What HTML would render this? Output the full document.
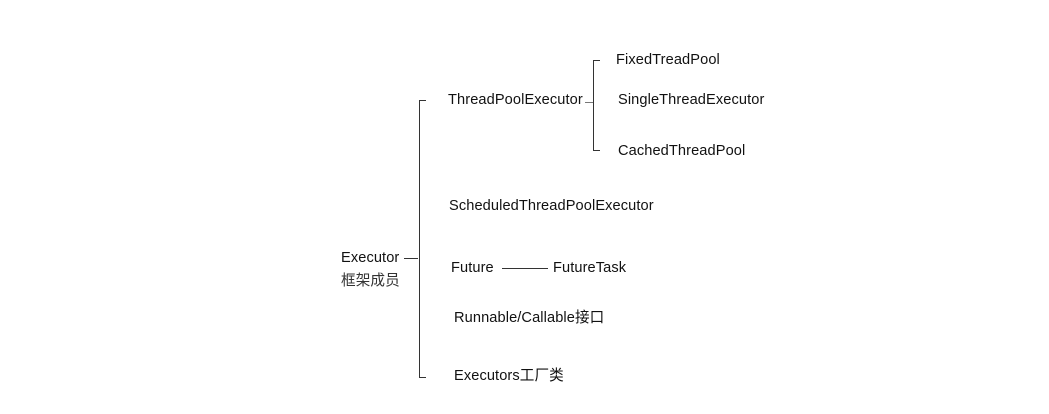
<!DOCTYPE html>
<html><head><meta charset="utf-8"><style>
body{margin:0;width:1049px;height:414px;background:#fff;position:relative;overflow:hidden;font-family:"Liberation Sans","Noto Sans CJK SC",sans-serif;font-size:14.6px;letter-spacing:0.1px;color:#111}
.t{position:absolute;line-height:16px;white-space:nowrap}
.l{position:absolute;background:#333}
</style></head><body>
<div class="t" style="left:341px;top:250px">Executor</div>
<div class="t" style="left:341px;top:273px;color:#333">框架成员</div>
<div class="l" style="left:404px;top:258px;width:14px;height:1px"></div>
<div class="l" style="left:419px;top:100px;width:1px;height:278px"></div>
<div class="l" style="left:419px;top:100px;width:7px;height:1px"></div>
<div class="l" style="left:419px;top:377px;width:7px;height:1px"></div>
<div class="t" style="left:448px;top:92px">ThreadPoolExecutor</div>
<div class="l" style="left:585px;top:102px;width:8px;height:1px;background:#777"></div>
<div class="l" style="left:593px;top:60px;width:1px;height:91px"></div>
<div class="l" style="left:593px;top:60px;width:7px;height:1px"></div>
<div class="l" style="left:593px;top:150px;width:7px;height:1px"></div>
<div class="t" style="left:616px;top:52px">FixedTreadPool</div>
<div class="t" style="left:618px;top:92px">SingleThreadExecutor</div>
<div class="t" style="left:618px;top:143px">CachedThreadPool</div>
<div class="t" style="left:449px;top:198px">ScheduledThreadPoolExecutor</div>
<div class="t" style="left:451px;top:260px">Future</div>
<div class="l" style="left:502px;top:268px;width:46px;height:1px"></div>
<div class="t" style="left:553px;top:260px">FutureTask</div>
<div class="t" style="left:454px;top:310px">Runnable/Callable接口</div>
<div class="t" style="left:454px;top:368px">Executors工厂类</div>
</body></html>
